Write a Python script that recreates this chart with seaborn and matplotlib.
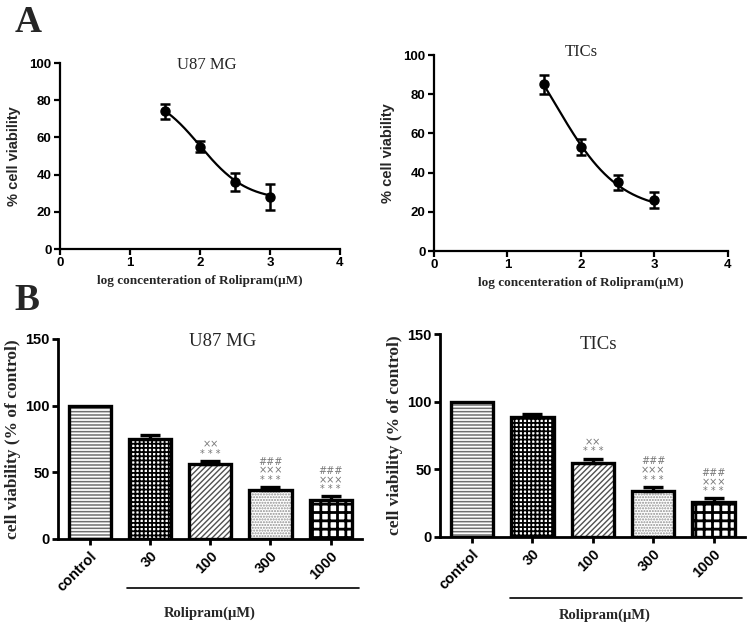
import numpy as np
import pandas as pd
import matplotlib
matplotlib.use("Agg")
import matplotlib.pyplot as plt
from matplotlib.patches import Rectangle
import seaborn as sns

# ---------------- data ----------------
log_conc = [1.5, 2.0, 2.5, 3.0]
u87_viability = [74, 55, 36, 28]
u87_sem = [4, 3, 5, 7]
tics_viability = [85, 53, 35, 26]
tics_sem = [5, 4, 4, 4]

# fitted dose-response (4PL) parameters: bottom, top, logIC50, hill
u87_fit = [26, 85, 2.0, 1.3]
tics_fit = [20, 130, 1.65, 1.0]

groups = ["control", "30", "100", "300", "1000"]
u87_bar = [100, 75, 56, 37, 29]
u87_bar_err = [0, 3, 2.5, 2, 3]
tics_bar = [100, 89, 55, 34, 26]
tics_bar_err = [0, 2, 3, 3, 2.5]
marks = ["", "", "××\n* * *", "###\n×××\n* * *", "###\n×××\n* * *"]

# ---------------- style ----------------
sns.set_theme(style="ticks")
plt.rcParams["font.family"] = ["Liberation Sans", "DejaVu Sans"]
plt.rcParams["font.weight"] = "bold"
plt.rcParams["hatch.linewidth"] = 1.1
SERIF = ["Liberation Serif", "DejaVu Serif"]
SANS = ["Liberation Sans", "DejaVu Sans"]

fig = plt.figure(figsize=(7.51, 6.27), dpi=100)
W, H = 751, 627


def ax_px(x0, x1, y_top, y_bot):
    return fig.add_axes([x0 / W, (H - y_bot) / H, (x1 - x0) / W, (y_bot - y_top) / H])


def style_axes(ax, lw, size):
    for s in ["top", "right"]:
        ax.spines[s].set_visible(False)
    for s in ["left", "bottom"]:
        ax.spines[s].set_linewidth(lw)
        ax.spines[s].set_color("black")
    ax.tick_params(direction="out", length=4, width=lw, color="black",
                   labelsize=size, pad=2, labelcolor="black")
    ax.set_facecolor("white")


def fourpl(x, p):
    b, t, ic, h = p
    return b + (t - b) / (1 + 10 ** ((x - ic) * h))


def dose_panel(ax, y, err, fit, title, tx, ty):
    xc = np.linspace(min(log_conc), max(log_conc), 200)
    sns.lineplot(x=xc, y=fourpl(xc, fit), ax=ax, color="black", lw=1.6)
    ax.errorbar(log_conc, y, yerr=err, fmt="o", color="black", ms=6.5,
                elinewidth=1.8, capsize=3.4, capthick=1.8, clip_on=False)
    ax.set_xlim(0, 4)
    ax.set_ylim(0, 100)
    ax.set_xticks([0, 1, 2, 3, 4])
    ax.set_yticks([0, 20, 40, 60, 80, 100])
    style_axes(ax, 1.6, 9.5)
    ax.set_xlabel("log concenteration of Rolipram(\u03bcM)", family=SERIF,
                  fontweight="bold", fontsize=9.5, labelpad=4)
    ax.set_ylabel("% cell viability", family=SANS, fontweight="bold",
                  fontsize=10.5, labelpad=6)
    ax.text(tx, ty, title, transform=ax.transAxes, ha="center", va="center",
            family=SERIF, fontweight="normal", fontsize=12)


def bar_panel(ax, vals, errs, title, tx, ty, line_y, text_y, line_x0, text_x):
    df = pd.DataFrame({"group": groups, "value": vals})
    hatches = ["-----", "++++", "//////", "......", "++"]
    hcolors = ["#707070", "black", "#505050", "#909090", "black"]
    hlw = [1.1, 1.3, 1.0, 1.0, 2.0]
    sns.barplot(data=df, x="group", y="value", order=groups, ax=ax,
                color="white", width=0.7, errorbar=None, linewidth=0,
                saturation=1)
    bars = list(ax.patches)
    for p, h, c, lw in zip(bars, hatches, hcolors, hlw):
        p.set_facecolor("white")
        p.set_hatch(h)
        p.set_edgecolor(c)
        p.set_linewidth(0)
        if hasattr(p, "set_hatch_linewidth"):
            p.set_hatch_linewidth(lw)
        ax.add_patch(Rectangle(p.get_xy(), p.get_width(), p.get_height(),
                               fill=False, ec="black", lw=2.4, zorder=3))
    xs = np.arange(len(groups))
    idx = [i for i in xs if errs[i] > 0]
    ax.errorbar(xs[idx], np.array(vals)[idx],
                yerr=[np.zeros(len(idx)), np.array(errs)[idx]],
                fmt="none", ecolor="black", elinewidth=2.4, capsize=7,
                capthick=2.4, zorder=4)
    for i, m in enumerate(marks):
        if m:
            ax.text(i, vals[i] + errs[i] + 1.5, m, ha="center", va="bottom",
                    fontsize=7, color="#777777", linespacing=0.9,
                    family=["DejaVu Sans"], fontweight="normal")
    ax.set_xlim(-0.53, 4.52)
    ax.set_ylim(0, 150)
    ax.set_yticks([0, 50, 100, 150])
    ax.set_xlabel("")
    ax.set_ylabel("cell viability (% of control)", family=SERIF,
                  fontweight="bold", fontsize=12.5, labelpad=3)
    style_axes(ax, 2, 10.5)
    for lab in ax.get_xticklabels():
        lab.set_rotation(45)
        lab.set_ha("right")
        lab.set_rotation_mode("anchor")
    ax.tick_params(axis="x", labelsize=10.5, pad=3)
    ax.text(tx, ty, title, transform=ax.transAxes, ha="center", va="center",
            family=SERIF, fontweight="normal", fontsize=13.5)
    ax.plot([line_x0, 0.99], [line_y, line_y], transform=ax.transAxes,
            color="black", lw=1.2, clip_on=False)
    ax.text(text_x, text_y, "Rolipram(\u03bcM)", transform=ax.transAxes,
            ha="center", va="center", family=SERIF, fontweight="bold",
            fontsize=10.5)


ax1 = ax_px(60, 340, 63, 249)
dose_panel(ax1, u87_viability, u87_sem, u87_fit, "U87 MG", 0.525, 0.99)
ax2 = ax_px(434, 728, 55, 251)
dose_panel(ax2, tics_viability, tics_sem, tics_fit, "TICs", 0.5, 1.015)

ax3 = ax_px(58, 362, 339, 539)
bar_panel(ax3, u87_bar, u87_bar_err, "U87 MG", 0.54, 0.985, -0.245, -0.37, 0.227, 0.5)
ax4 = ax_px(440, 745, 334, 537)
bar_panel(ax4, tics_bar, tics_bar_err, "TICs", 0.52, 0.95, -0.30, -0.384, 0.23, 0.54)

fig.text(28 / W, 1 - 19 / H, "A", family=SERIF, fontweight="bold",
         fontsize=27, ha="center", va="center_baseline")
fig.text(27 / W, 1 - 296 / H, "B", family=SERIF, fontweight="bold",
         fontsize=27, ha="center", va="center_baseline")

fig.savefig("out.png", dpi=100, facecolor="white")
